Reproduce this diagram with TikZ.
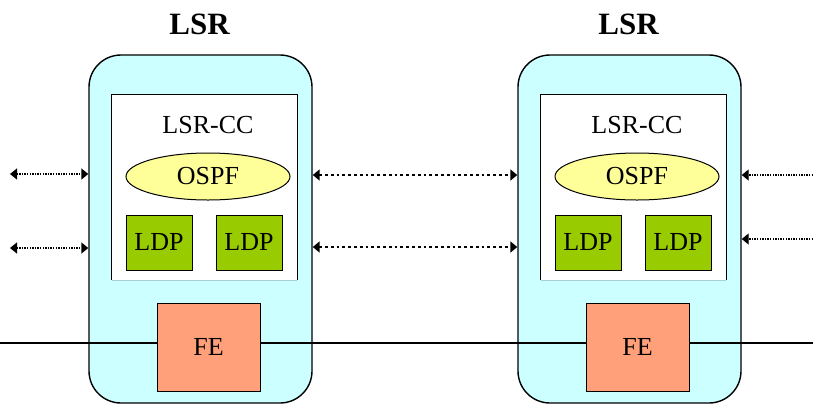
\documentclass[tikz,border=0pt]{standalone}
\usepackage{fontspec}
\setmainfont{Liberation Serif}
\usetikzlibrary{arrows.meta,shapes.geometric}
\definecolor{lsrcyan}{HTML}{CCFFFF}
\definecolor{fecol}{HTML}{FFA07A}
\definecolor{ldpcol}{HTML}{99CC00}
\definecolor{ospfcol}{HTML}{FFFF99}
\definecolor{ccedge}{HTML}{A8D0D0}
\begin{document}
\begin{tikzpicture}[x=1pt,y=-1pt,
  txt/.style={font=\fontsize{26pt}{30pt}\selectfont, text=black},
  title/.style={font=\fontsize{31pt}{36pt}\selectfont\bfseries, inner sep=0},
  lsrbox/.style={draw=black, line width=1.4pt, fill=lsrcyan, rounded corners=32pt, minimum width=223pt, minimum height=348pt, inner sep=0},
  ccbox/.style={fill=white, minimum width=185pt, minimum height=185pt, inner sep=0},
  ospf/.style={ellipse, draw=black, line width=1pt, fill=ospfcol, minimum width=164pt, minimum height=47pt, inner sep=0, txt},
  ldp/.style={draw=black, line width=1pt, fill=ldpcol, minimum width=66pt, minimum height=55pt, inner sep=0, txt},
  fe/.style={draw=black, line width=1pt, fill=fecol, minimum width=103pt, minimum height=88pt, inner sep=0, txt},
  thinarrow/.style={line width=1.4pt, dash pattern=on 1.4pt off 1.2pt, -{Triangle[length=7pt,width=11pt]}},
  thickarrow/.style={line width=2.8pt, dash pattern=on 2.8pt off 3pt, {Triangle[length=7pt,width=11pt]}-{Triangle[length=7pt,width=11pt]}},
  wire/.style={line width=2pt}
]
\useasboundingbox (0,0) rectangle (813,405);
\fill[white] (0,0) rectangle (813,405);

\foreach \n/\dx in {A/0,B/429}{
  \node[title] (t\n) at (199.5+\dx,24) {LSR};
  \node[lsrbox] (lsr\n) at (200.5+\dx,229) {};
  \node[ccbox] (cc\n) at (204.5+\dx,187.5) {};
  \draw[line width=1.1pt] (cc\n.south west) -- (cc\n.north west) -- (cc\n.north east) -- (cc\n.south east);
  \draw[line width=1.1pt, ccedge] (cc\n.south west) -- (cc\n.south east);
  \node[txt, inner sep=0] (lbl\n) at (208+\dx,125) {LSR-CC};
  \node[ospf] (ospf\n) at (208+\dx,176.5) {OSPF};
  \node[ldp] (ldpa\n) at (159+\dx,242.5) {LDP};
  \node[ldp] (ldpb\n) at (249+\dx,242.5) {LDP};
  \node[fe] (fe\n) at (208.5+\dx,347) {FE};
}

% wire
\coordinate (wl) at (0,343);
\coordinate (wr) at (813,343);
\draw[wire] (wl) -- (wl -| feA.west);
\draw[wire] (wl -| feA.east) -- (wl -| feB.west);
\draw[wire] (wr -| feB.east) -- (wr);

% left arrows
\coordinate (la) at (10,174);
\coordinate (lb) at (10,248);
\draw[thinarrow, {Triangle[length=7pt,width=11pt]}-{Triangle[length=7pt,width=11pt]}] (la) -- (la -| lsrA.west);
\draw[thinarrow, {Triangle[length=7pt,width=11pt]}-{Triangle[length=7pt,width=11pt]}] (lb) -- (lb -| lsrA.west);

% middle arrows
\coordinate (ma) at (400,175);
\coordinate (mb) at (400,247);
\draw[thickarrow] (ma -| lsrA.east) -- (ma -| lsrB.west);
\draw[thickarrow] (mb -| lsrA.east) -- (mb -| lsrB.west);

% right arrows
\coordinate (ra) at (813,175);
\coordinate (rb) at (813,239);
\draw[thinarrow] (ra) -- (ra -| lsrB.east);
\draw[thinarrow] (rb) -- (rb -| lsrB.east);
\end{tikzpicture}
\end{document}
